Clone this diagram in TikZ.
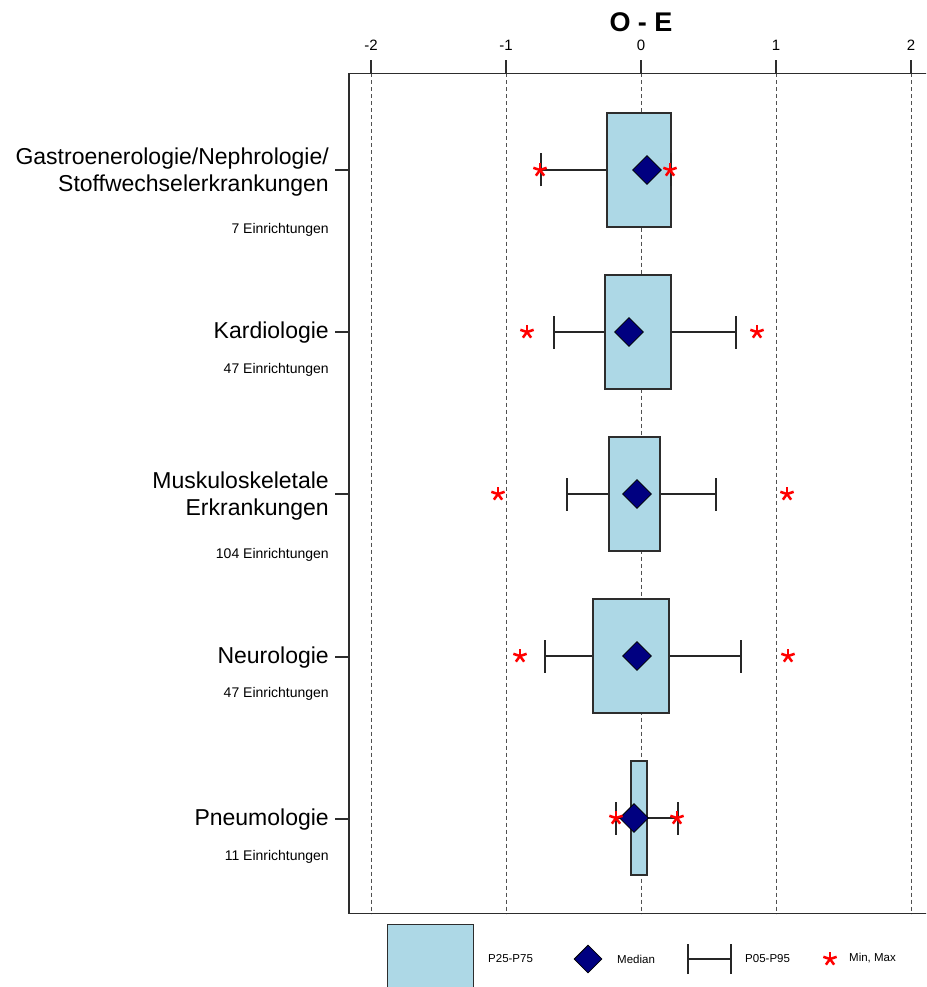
\documentclass[tikz,border=0pt]{standalone}
\usepackage{fontspec}
\setmainfont{Liberation Sans}
\usetikzlibrary{shapes.geometric}
\definecolor{boxfill}{RGB}{173,216,230}
\definecolor{medfill}{RGB}{0,0,128}
\definecolor{framec}{RGB}{45,45,45}
\definecolor{gridc}{RGB}{80,80,80}
\definecolor{starred}{RGB}{255,0,0}
\begin{document}
\begin{tikzpicture}[x=1pt,y=-1pt,
  qbox/.style={draw=framec, fill=boxfill, line width=1.3pt, inner sep=0, minimum height=114pt},
  med/.style={diamond, draw=black, fill=medfill, inner sep=0, minimum width=29pt, minimum height=29pt, line width=0.8pt},
  whisk/.style={draw=black!85, line width=1.3pt},
  gridline/.style={draw=gridc, line width=0.9pt, dash pattern=on 4pt off 3pt},
  framel/.style={draw=framec, line width=1.4pt},
  starmark/.style={circle, inner sep=0, minimum size=17pt, path picture={\foreach \a in {90,18,162,234,306}{\draw[starred, line width=2.5pt] (path picture bounding box.center) -- ++(\a:7pt);}}},
  catlabel/.style={anchor=east, inner sep=0, align=right, font=\fontsize{23}{27}\selectfont},
  nlabel/.style={anchor=east, inner sep=0, font=\fontsize{14}{16}\selectfont},
  ticklab/.style={inner sep=0, font=\fontsize{15}{17}\selectfont},
  leglab/.style={anchor=west, inner sep=0, font=\fontsize{11.5}{13}\selectfont}
]
\useasboundingbox (0,0) rectangle (926,987);
\clip (0,0) rectangle (926,987);

% title and top axis
\node[inner sep=0, font=\fontsize{27}{30}\selectfont\bfseries] (title) at (641,22) {O - E};
\foreach \v/\x in {-2/371,-1/506,0/641,1/776,2/911}{
  \node[ticklab] (tl\x) at (\x,45) {\v};
  \draw[framel] (\x,60.5) -- (\x,73.5);
  \draw[gridline] (\x,73.5) -- (\x,913.5);
}
% frame
\draw[framel] (940,73.5) -- (349,73.5) -- (349,913.5) -- (940,913.5);
% left ticks
\foreach \y in {170,332,494,657,819}{ \draw[framel] (335,\y) -- (349,\y); }

% category labels
\node[catlabel] (c1) at (329,172.5) {Gastroenerologie/Nephrologie/\\Stoffwechselerkrankungen};
\node[nlabel] (n1) at (329,230) {7 Einrichtungen};
\node[catlabel] (c2) at (329,333) {Kardiologie};
\node[nlabel] (n2) at (329,370) {47 Einrichtungen};
\node[catlabel] (c3) at (329,496.5) {Muskuloskeletale\\Erkrankungen};
\node[nlabel] (n3) at (329,555) {104 Einrichtungen};
\node[catlabel] (c4) at (329,658) {Neurologie};
\node[nlabel] (n4) at (329,694) {47 Einrichtungen};
\node[catlabel] (c5) at (329,820) {Pneumologie};
\node[nlabel] (n5) at (329,857) {11 Einrichtungen};

% rows: y, box left, box right, median, cap left, cap right, star left, star right
\foreach \i/\y/\bl/\br/\m/\wl/\wr/\sl/\sr in {
  1/170/607/671/647/541/671/540/670,
  2/332/605/671/629/554/736/527/757,
  3/494/609/660/637/567/716/498/787,
  4/656/593/669/637/545/741/520/788,
  5/818/631/647/634/616/678/616/677}{
  \coordinate (wl\i) at (\wl,\y);
  \coordinate (wr\i) at (\wr,\y);
  \node[qbox, minimum width={\br-\bl}] (b\i) at ({(\bl+\br)/2},\y) {};
  \draw[whisk] (wl\i) -- (b\i.west);
  \draw[whisk] (b\i.east) -- (wr\i);
  \draw[whisk] ([yshift=-16.5pt]wl\i) -- ([yshift=16.5pt]wl\i);
  \draw[whisk] ([yshift=-16.5pt]wr\i) -- ([yshift=16.5pt]wr\i);
  \node[med] (m\i) at (\m,\y) {};
  \node[starmark] (sl\i) at (\sl,\y) {};
  \node[starmark] (sr\i) at (\sr,\y) {};
}

% legend
\node[qbox, minimum width=86pt, minimum height=90pt, anchor=north west] (lbox) at (387,923.5) {};
\node[leglab] (lt1) at (488,959) {P25-P75};
\node[med, minimum width=28pt, minimum height=28pt] (lmed) at (588,959) {};
\node[leglab] (lt2) at (617,959) {Median};
\coordinate (lwl) at (688,959);
\coordinate (lwr) at (731,959);
\draw[whisk] (lwl) -- (lwr);
\draw[whisk] ([yshift=-15pt]lwl) -- ([yshift=15pt]lwl);
\draw[whisk] ([yshift=-15pt]lwr) -- ([yshift=15pt]lwr);
\node[leglab] (lt3) at (745,959) {P05-P95};
\node[starmark] (lstar) at (830,959) {};
\node[leglab] (lt4) at (849,958) {Min, Max};
\end{tikzpicture}
\end{document}
